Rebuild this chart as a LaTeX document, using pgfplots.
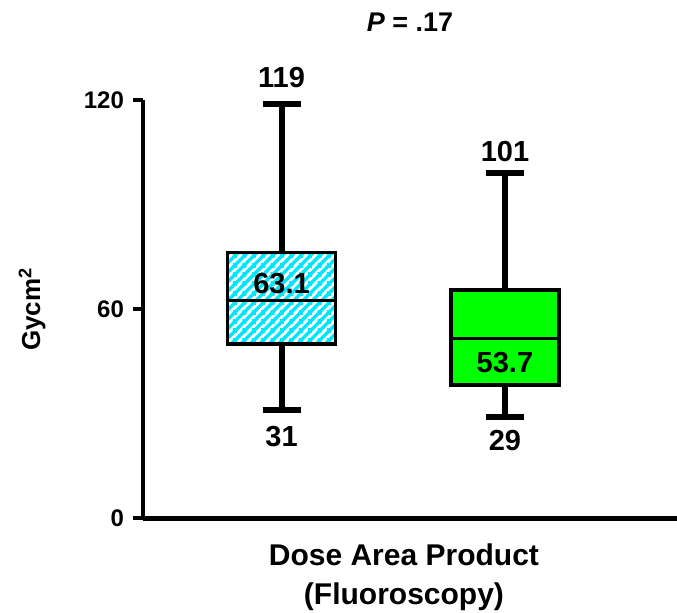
\documentclass[border=0pt]{standalone}
\usepackage{fontspec}
\setmainfont{Liberation Sans}
\usepackage{pgfplots}
\pgfplotsset{compat=1.18}
\usepgfplotslibrary{statistics}
\usetikzlibrary{patterns}
\pgfdeclarepatternformonly{hatch}{\pgfqpoint{-1pt}{-1pt}}{\pgfqpoint{5.7pt}{5.7pt}}{\pgfqpoint{4.7pt}{4.7pt}}{%
  \pgfsetlinewidth{1.7pt}%
  \pgfpathmoveto{\pgfqpoint{-1pt}{-1pt}}%
  \pgfpathlineto{\pgfqpoint{5.7pt}{5.7pt}}%
  \pgfpathmoveto{\pgfqpoint{2.7pt}{-3.7pt}}%
  \pgfpathlineto{\pgfqpoint{9.4pt}{3pt}}%
  \pgfpathmoveto{\pgfqpoint{-3.7pt}{2.7pt}}%
  \pgfpathlineto{\pgfqpoint{3pt}{9.4pt}}%
  \pgfusepath{stroke}}
\definecolor{hcyan}{RGB}{0,230,250}
\definecolor{hgreen}{RGB}{0,255,0}
\newcommand{\vfont}{\fontsize{14.5}{17}\selectfont\bfseries}
\begin{document}
\begin{tikzpicture}
\begin{axis}[
  scale only axis, width=267pt, height=209pt,
  xmin=0.38, xmax=2.77, ymin=0, ymax=120,
  axis x line*=bottom, axis y line*=left,
  axis line style={line width=2.3pt},
  xtick=\empty, ytick={0,60,120},
  tick style={line width=2pt, black}, tick align=outside, major tick length=5pt,
  yticklabel style={font=\fontsize{12}{14}\selectfont\bfseries, xshift=-1pt},
  /pgf/number format/assume math mode=true,
  clip=false,
  boxplot/draw direction=y,
  boxplot/every box/.style={line width=1.8pt},
  boxplot/every median/.style={line width=1.5pt},
  boxplot/every whisker/.style={line width=3pt},
]
\addplot[boxplot prepared={lower whisker=31, lower quartile=50, median=62.5,
    upper quartile=76.3, upper whisker=119, draw position=1,
    box extend=0.483, whisker extend=0.17},
  draw=black, solid, mark=none, preaction={fill=white},
  pattern=hatch, pattern color=hcyan]
  coordinates {};
\addplot[boxplot prepared={lower whisker=29, lower quartile=38.3, median=51.6,
    upper quartile=65.5, upper whisker=99, draw position=2,
    box extend=0.483, whisker extend=0.17},
  draw=black, solid, mark=none, fill=hgreen]
  coordinates {};
\node[font=\vfont] at (axis cs:1,126.4) {119};
\node[font=\vfont] at (axis cs:1,23.6) {31};
\node[font=\vfont] at (axis cs:1,67.5) {63.1};
\node[font=\vfont] at (axis cs:2,105.2) {101};
\node[font=\vfont] at (axis cs:2,44.6) {53.7};
\node[font=\vfont] at (axis cs:2,22.3) {29};
\node[font=\fontsize{13.5}{16}\selectfont\bfseries] at (axis cs:1.575,142.5) {\textit{P} = .17};
\node[align=center, inner sep=0pt, anchor=north, font=\fontsize{15}{19.5}\selectfont\bfseries]
  at (axis cs:1.548,-7.1) {Dose Area Product\\(Fluoroscopy)};
\node[rotate=90, font=\fontsize{13}{15}\selectfont\bfseries] at (axis cs:-0.116,60) {Gycm\textsuperscript{2}};
\end{axis}
\pgfresetboundingbox
\useasboundingbox (-71.5pt,-47.35pt) rectangle (267pt,259.15pt);
\end{tikzpicture}
\end{document}
